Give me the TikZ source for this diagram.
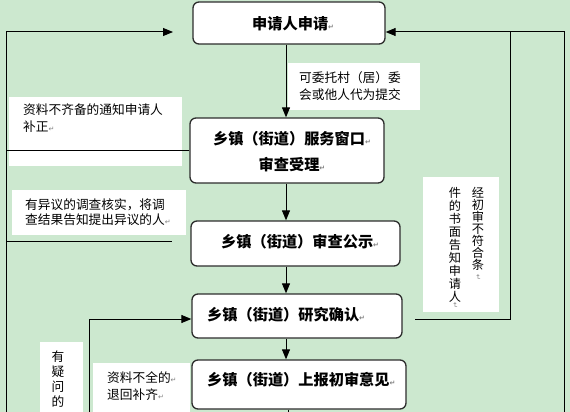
\documentclass[tikz,border=0pt]{standalone}
\usepackage{fontspec}
\usetikzlibrary{arrows.meta}
\newfontfamily\cjk{Noto Sans CJK SC}
\newfontfamily\marksym{DejaVu Sans}
\definecolor{eyegreen}{RGB}{204,232,207}
\definecolor{frame}{RGB}{45,45,45}
\newcommand{\pmark}{{\marksym\fontsize{7}{7}\selectfont\color{gray}↵}}
\newcommand{\vmark}{\rotatebox{-90}{\pmark}}

\tikzset{
  stepbox/.style={draw=frame, line width=1.3pt, fill=white, rounded corners=6pt, inner sep=0pt},
  notebg/.style={fill=white, inner sep=0pt},
  boxtext/.style={font=\cjk\bfseries\fontsize{15.2}{26}\selectfont, inner sep=0pt},
  notetext/.style={font=\cjk\fontsize{12.7}{17}\selectfont, inner sep=0pt, align=left, anchor=west},
  coltext/.style={inner sep=0pt, align=center},
  flow/.style={line width=1pt, -{Triangle[length=10pt,width=8pt]}},
  link/.style={line width=1pt},
}

\begin{document}
\begin{tikzpicture}[x=1pt, y=-1pt]
\clip (0,0) rectangle (570,412);
\fill[eyegreen] (0,0) rectangle (570,412);

% white notes
\node[notebg, minimum width=132pt, minimum height=47pt] (proxybg) at (354,86.5) {};
\node[notebg, minimum width=173pt, minimum height=69pt] (incompbg) at (95.5,131.5) {};
\node[notebg, minimum width=174pt, minimum height=45pt] (objbg) at (99,212.5) {};
\node[notebg, minimum width=76pt, minimum height=135pt] (rejbg) at (461,244.5) {};
\node[notebg, minimum width=43pt, minimum height=78pt] (doubtbg) at (61.5,381) {};
\node[notebg, minimum width=97pt, minimum height=57pt] (returnbg) at (141.5,391.5) {};

% process boxes
\node[stepbox, minimum width=192pt, minimum height=42pt] (apply) at (289,23) {};
\node[stepbox, minimum width=194pt, minimum height=65pt] (accept) at (287,150.5) {};
\node[stepbox, minimum width=209pt, minimum height=45pt] (public) at (295.5,243.5) {};
\node[stepbox, minimum width=210pt, minimum height=44pt] (confirm) at (297,316) {};
\node[stepbox, minimum width=214pt, minimum height=49pt] (report) at (299,384.5) {};

\node[boxtext, anchor=west] (applyT) at (252,24) {申请人申请\pmark};
\node[boxtext, align=center] (acceptT) at (292,152) {乡镇（街道）服务窗口\pmark\\审查受理\pmark};
\node[boxtext, anchor=west] (publicT) at (221,242) {乡镇（街道）审查公示\pmark};
\node[boxtext, anchor=west] (confirmT) at (207,315) {乡镇（街道）研究确认\pmark};
\node[boxtext, anchor=west] (reportT) at (207,380) {乡镇（街道）上报初审意见\pmark};

% note texts
\node[notetext] (proxyT) at (299,86.5) {可委托村（居）委\\会或他人代为提交};
\node[notetext] (incompT) at (23,118.5) {资料不齐备的通知申请人\\补正\pmark};
\node[notetext, font=\cjk\fontsize{12.7}{15}\selectfont] (objT) at (25,212.5) {有异议的调查核实，将调\\查结果告知提出异议的人\pmark};
\node[notetext] (returnT) at (107,386.5) {资料不全的\pmark\\退回补齐\pmark};
\node[coltext, font=\cjk\fontsize{12.7}{15}\selectfont] (doubtT) at (58,379.5) {有\\疑\\问\\的};
\node[coltext, font=\cjk\fontsize{12.2}{12}\selectfont] (rejA) at (478,229) {经\\初\\审\\不\\符\\合\\条};
\node[coltext, font=\cjk\fontsize{12.2}{13}\selectfont] (rejB) at (455,245) {件\\的\\书\\面\\告\\知\\申\\请\\人};
\node[inner sep=0pt] (rejAm) at (478,277) {\vmark};
\node[inner sep=0pt] (rejBm) at (455,305) {\vmark};

% main flow
\coordinate (spine) at (286,0);
\coordinate (spineEnd) at (288,415);
\draw[flow] (apply.south -| spine) -- (accept.north -| spine);
\draw[flow] (accept.south -| spine) -- (public.north -| spine);
\draw[flow] (public.south -| spine) -- (confirm.north -| spine);
\draw[flow] (confirm.south -| spine) -- (report.north -| spine);
\draw[link] (report.south -| spineEnd) -- (spineEnd);

% left returns
\coordinate (leftTop) at (6,32);
\coordinate (leftEnd) at (6,415);
\coordinate (leftTip) at (173,32);
\coordinate (objEnd) at (172,241);
\draw[flow] (leftEnd) -- (leftTop) -- (leftTip);
\draw[link] (accept.west) -- (accept.west -| leftTop);
\draw[link] (objEnd -| leftTop) -- (objEnd);
\coordinate (doubtEnd) at (89,415);
\draw[flow] (doubtEnd) |- ([yshift=-3pt]confirm.west);

% right returns
\coordinate (rightTop) at (564,32);
\coordinate (rightEnd) at (564,415);
\coordinate (rejStart) at (415,319);
\coordinate (rejCorner) at (510,319);
\draw[flow] (rightEnd) -- (rightTop) -- (apply.east |- rightTop);
\draw[link] (rejStart) -- (rejCorner) -- (rejCorner |- rightTop);
\end{tikzpicture}
\end{document}
